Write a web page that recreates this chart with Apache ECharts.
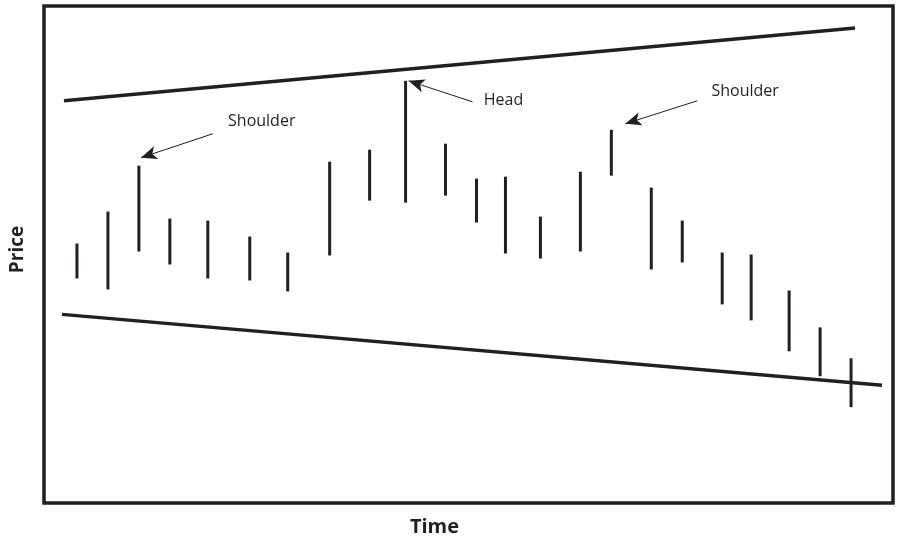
<!DOCTYPE html>
<html><head><meta charset="utf-8">
<script src="https://cdn.jsdelivr.net/npm/echarts@6/dist/echarts.min.js"></script>
<style>html,body{margin:0;padding:0;background:#fff}#c{width:898px;height:542px}</style>
</head><body><div id="c"></div>
<script>
// High-low bars: time position, high price, low price
const barTime = [33, 64, 95, 126, 164, 206, 244, 286, 326, 362, 402, 433, 462, 497, 537, 568, 608, 639, 679, 708, 746, 777, 808];
const barHigh = [260, 292, 338, 285, 283, 267, 251, 342, 354, 423, 360, 325, 327, 287, 332, 374, 316, 283, 251, 249, 213, 176, 145];
const barLow  = [225, 214, 252, 239, 225, 223, 212, 248, 303, 301, 308, 281, 250, 245, 252, 328, 234, 241, 199, 183, 152, 127, 96];
// Trend lines
const upperTime = [20, 812];
const upperPrice = [403, 476];
const lowerTime = [18, 839];
const lowerPrice = [189, 118];
// Annotations
const noteText = ['Shoulder', 'Head', 'Shoulder'];
const noteTime = [218, 460, 702];
const notePrice = [382, 403, 412];
const arrowFromTime = [169, 429, 654];
const arrowFromPrice = [370, 402, 403];
const arrowToTime = [97, 365, 582];
const arrowToPrice = [346, 423, 380];

const INK = '#231f20';
const chart = echarts.init(document.getElementById('c'));
const bars = barTime.map((t, i) => [t, barHigh[i], barLow[i]]);
const notes = noteText.map((s, i) => [noteTime[i], notePrice[i], s]);
const arrows = noteText.map((s, i) => [
  {coord: [arrowFromTime[i], arrowFromPrice[i]], symbol: 'none'},
  {coord: [arrowToTime[i], arrowToPrice[i]], symbol: 'arrow'}
]);

chart.setOption({
  animation: false,
  backgroundColor: '#fff',
  grid: {left: 43, top: 6, right: 5, bottom: 38, show: true, borderColor: INK, borderWidth: 3.5, backgroundColor: 'transparent'},
  xAxis: {
    type: 'value', min: 0, max: 850,
    name: 'Time', nameLocation: 'middle', nameGap: 14,
    nameTextStyle: {fontFamily: 'Open Sans', fontWeight: 'bold', fontSize: 20, color: INK, padding: [0, 68, 0, 0], verticalAlign: 'top'},
    axisLine: {show: false}, axisTick: {show: false}, axisLabel: {show: false}, splitLine: {show: false}
  },
  yAxis: {
    type: 'value', min: 0, max: 498,
    name: 'Price', nameLocation: 'middle', nameGap: 17, nameRotate: 90,
    nameTextStyle: {fontFamily: 'Open Sans', fontWeight: 'bold', fontSize: 19, color: INK, padding: [0, 0, 0, 10]},
    axisLine: {show: false}, axisTick: {show: false}, axisLabel: {show: false}, splitLine: {show: false}
  },
  series: [
    {
      type: 'custom', data: bars, encode: {x: 0, y: [1, 2]}, silent: true,
      renderItem: function (params, api) {
        const p1 = api.coord([api.value(0), api.value(1)]);
        const p2 = api.coord([api.value(0), api.value(2)]);
        return {type: 'line', shape: {x1: p1[0], y1: p1[1], x2: p2[0], y2: p2[1]}, style: {stroke: INK, lineWidth: 3}};
      }
    },
    {
      type: 'line', data: upperTime.map((t, i) => [t, upperPrice[i]]), symbol: 'none', silent: true,
      lineStyle: {color: INK, width: 3.5},
      markLine: {
        silent: true, symbolSize: [10, 16], animation: false,
        lineStyle: {color: INK, width: 1, type: 'solid'},
        label: {show: false}, emphasis: {disabled: true},
        data: arrows
      }
    },
    {
      type: 'line', data: lowerTime.map((t, i) => [t, lowerPrice[i]]), symbol: 'none', silent: true,
      lineStyle: {color: INK, width: 3.5}
    },
    {
      type: 'custom', data: notes, encode: {x: 0, y: 1}, silent: true,
      renderItem: function (params, api) {
        const p = api.coord([api.value(0), api.value(1)]);
        return {type: 'text', x: p[0], y: p[1], style: {text: noteText[params.dataIndex], fill: INK, font: '16px "Open Sans"', align: 'center', verticalAlign: 'middle'}};
      }
    }
  ]
});
</script>
</body></html>
